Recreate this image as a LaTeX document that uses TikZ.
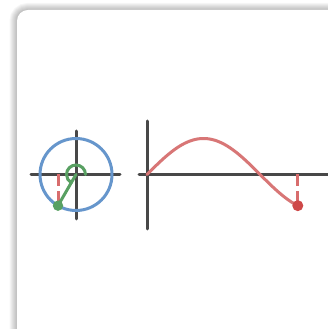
\documentclass[tikz,border=0pt]{standalone}
\usetikzlibrary{calc}

\begin{document}
\begin{tikzpicture}[x=1pt,y=1pt,line cap=round,line width=3pt]
\definecolor{axisgray}{RGB}{72,72,72}
\definecolor{wheel}{RGB}{102,150,204}
\definecolor{phase}{RGB}{88,160,98}
\definecolor{wave}{RGB}{216,118,118}
\definecolor{marker}{RGB}{206,72,72}
\tikzset{guide/.style={color=marker!80!white,dash pattern=on 12pt off 5pt,line cap=butt}}

\useasboundingbox (0,0) rectangle (328,329);
\fill[white] (0,0) rectangle (328,329);

% Card with a soft shadow.
\begin{scope}
\clip (0,0) rectangle (328,329);
\foreach \w in {2,4,...,14}
  \draw[black,opacity=0.035,line width=\w pt,rounded corners=11pt]
    (16.5,-20) rectangle (345,319);
\fill[white,rounded corners=11pt] (17,-20) rectangle (345,319);
\end{scope}

\coordinate (O) at (76,154.5);
\coordinate (P) at ($(O)+(240:36)$);
\coordinate (Pa) at (P |- O);
\coordinate (G) at (147,154.5);
\coordinate (Q) at ($(G)+({36*4*pi/3},{36*sin(240)})$);
\coordinate (Qa) at (Q |- G);

% Unit circle and its axes.
\draw[axisgray] ($(O)+(-45,0)$) -- ($(O)+(44,0)$);
\draw[axisgray] ($(O)+(0,43.5)$) -- ($(O)+(0,-44.5)$);
\draw[wheel] (O) circle[radius=36];
\draw[guide] (Pa) -- (P);
\draw[phase] ($(O)+(9.5,0)$) arc[start angle=0,end angle=240,radius=9.5];
\draw[phase] (O) -- (P);
\fill[phase] (P) circle[radius=5.2];

% Sine graph.
\draw[axisgray] ($(G)+(-8,0)$) -- ($(G)+(200,0)$);
\draw[axisgray] ($(G)+(0,53.5)$) -- ($(G)+(0,-54.5)$);
\draw[wave,shift={(G)}] plot[domain=0:240,samples=80] ({\x*pi/180*36},{36*sin(\x)});
\draw[guide] (Qa) -- (Q);
\fill[marker] (Q) circle[radius=5.5];
\end{tikzpicture}
\end{document}
